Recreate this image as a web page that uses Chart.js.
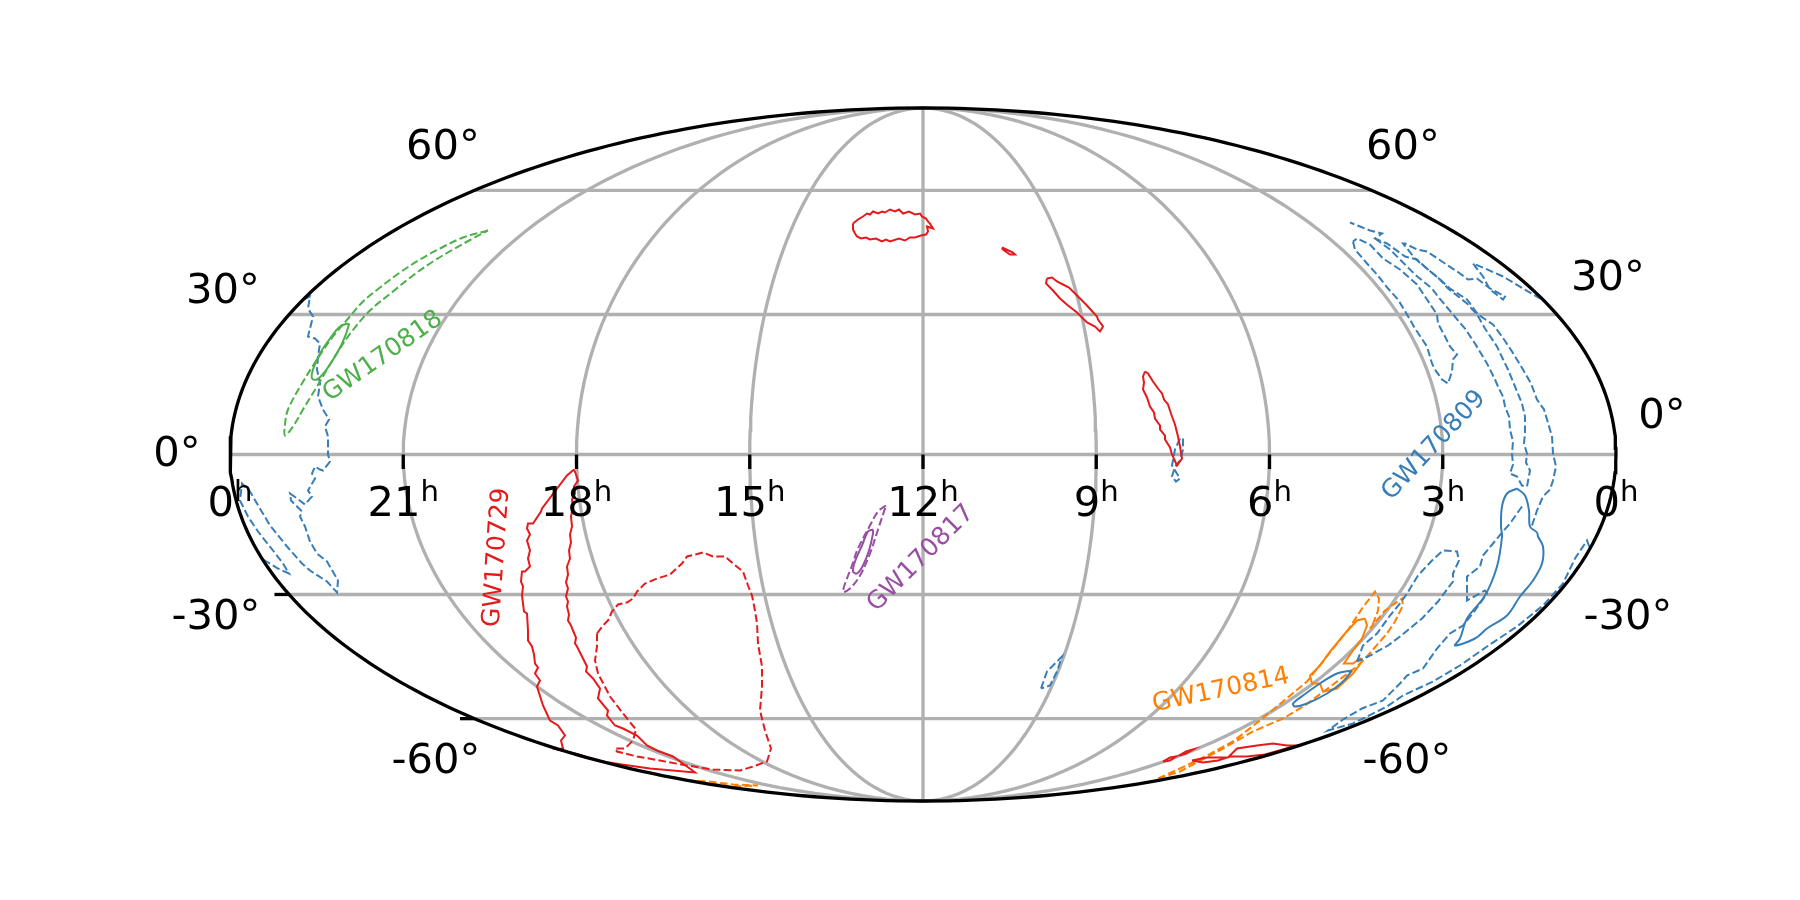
<!DOCTYPE html>
<html>
<head>
<meta charset="utf-8">
<title>GW sky map</title>
<script src="https://cdn.jsdelivr.net/npm/chart.js@4"></script>
<style>
  body { margin: 0; background: #fff; }
  canvas { display: block; }
</style>
</head>
<body>
<canvas id="myChart" width="1800" height="900"></canvas>
<script>
// contours are read off the picture, as [x, y] in the projected map plane
// (centre of the map is 0,0, half width 693, half height 346.5)
const gw170818Solid = [[-575,131],[-583,128],[-593,116],[-603,101],[-610,85],[-611,76],[-606,75],[-598,83],[-588,98],[-580,113],[-574,130],[-575,131]];
const gw170818Dashed = [[-435,224],[-460,217],[-483,206],[-503,195],[-523,182],[-543,167],[-560,153],[-574,137],[-590,118],[-606,95],[-621,71],[-635,45],[-638,30],[-638,19],[-630,28],[-620,45],[-606,68],[-596,85],[-585,103],[-572,122],[-553,144],[-530,163],[-510,179],[-490,193],[-470,205],[-452,215],[-435,224]];

const gw170817Solid = [[-50,-75],[-55,-77],[-61,-91],[-68,-107],[-70,-117],[-66,-119],[-60,-111],[-54,-96],[-50,-79],[-50,-75]];
const gw170817Dashed = [[-37,-51],[-45,-57],[-53,-71],[-65,-94],[-71,-111],[-80,-137],[-73,-134],[-63,-121],[-53,-99],[-44,-72],[-37,-51]];

const gw170729NorthA = [[-70,231],[-65,235],[-60,238],[-56,241],[-53,240],[-50,243],[-45,241],[-41,243],[-38,242],[-33,245],[-28,243],[-24,245],[-20,241],[-14,243],[-8,240],[-3,241],[-1,238],[3,236],[5,233],[7,231],[10,226],[4,228],[5,223],[3,220],[-2,219],[-8,217],[-13,217],[-18,214],[-24,216],[-33,213],[-37,215],[-41,213],[-47,216],[-53,215],[-57,217],[-62,216],[-66,218],[-68,221],[-70,225],[-70,231]];
const gw170729NorthB = [[79,207],[90,202],[92,200],[87,200],[80,205],[79,207]];
const gw170729NorthC = [[124,176],[129,177],[134,173],[140,170],[146,167],[152,161],[163,150],[174,138],[175,135],[180,128],[177,123],[172,128],[164,132],[154,142],[145,149],[137,156],[130,164],[123,171],[124,176]];
const gw170729Equator = [[222,83],[220,78],[221,72],[220,65],[224,57],[227,48],[231,42],[232,36],[237,29],[237,25],[242,19],[242,15],[247,7],[249,0],[254,-11],[259,-4],[257,8],[255,18],[252,30],[249,38],[245,50],[241,55],[239,61],[235,66],[230,73],[225,81],[222,83]];
const gw170729Main = [[-349,-15],[-356,-21],[-381,-54],[-382,-57],[-390,-69],[-395,-69],[-396,-74],[-393,-80],[-396,-86],[-393,-96],[-395,-104],[-393,-112],[-398,-117],[-401,-117],[-402,-127],[-400,-132],[-401,-141],[-399,-157],[-396,-159],[-395,-176],[-395,-186],[-391,-192],[-389,-200],[-388,-209],[-385,-213],[-388,-219],[-383,-226],[-386,-232],[-380,-251],[-373,-266],[-365,-271],[-358,-281],[-362,-286],[-360,-294],[-366,-295],[-344,-300],[-326,-306],[-301,-310],[-273,-314],[-228,-318],[-236,-312],[-250,-302],[-266,-296],[-276,-291],[-286,-281],[-300,-274],[-308,-271],[-316,-261],[-315,-256],[-325,-244],[-323,-234],[-330,-224],[-337,-217],[-336,-212],[-346,-192],[-348,-189],[-347,-183],[-350,-176],[-352,-171],[-355,-166],[-354,-160],[-356,-152],[-355,-147],[-357,-142],[-355,-134],[-357,-128],[-355,-120],[-356,-112],[-353,-104],[-354,-96],[-352,-88],[-353,-80],[-351,-72],[-352,-62],[-350,-52],[-351,-45],[-348,-39],[-349,-32],[-345,-26],[-347,-20],[-349,-15]];
const gw170729Dashed = [[-326,-179],[-320,-171],[-315,-166],[-311,-157],[-305,-150],[-296,-148],[-290,-144],[-286,-137],[-278,-129],[-266,-124],[-253,-120],[-241,-109],[-236,-102],[-228,-100],[-220,-98],[-210,-102],[-198,-102],[-190,-109],[-180,-117],[-175,-131],[-171,-141],[-168,-156],[-166,-169],[-165,-189],[-161,-212],[-161,-232],[-163,-256],[-158,-276],[-152,-294],[-156,-307],[-170,-312],[-183,-316],[-210,-315],[-236,-311],[-263,-306],[-286,-302],[-306,-297],[-308,-294],[-298,-294],[-290,-286],[-287,-275],[-300,-259],[-313,-242],[-325,-219],[-328,-206],[-326,-192],[-326,-179]];
const gw170729SouthA = [[240,-307],[247,-303],[253,-302],[247,-306],[240,-307]];
const gw170729SouthB = [[256,-301],[263,-297],[270,-295],[263,-299],[256,-301]];
const gw170729SouthC = [[269,-306],[284,-303],[305,-303],[314,-294],[334,-291],[350,-289],[364,-291],[374,-291],[342,-300],[324,-302],[307,-302],[295,-306],[280,-308],[269,-306]];

const gw170814Solid = [[442,-164],[434,-166],[422,-179],[407,-197],[397,-211],[387,-221],[389,-229],[397,-229],[400,-237],[414,-234],[430,-219],[439,-207],[437,-204],[430,-209],[421,-209],[423,-206],[430,-196],[439,-184],[444,-171],[442,-164]];
const gw170814Dashed = [[235,-324],[257,-314],[284,-301],[310,-287],[337,-266],[360,-247],[384,-227],[426,-174],[439,-154],[452,-137],[456,-144],[455,-156],[449,-172],[447,-174],[462,-156],[479,-144],[480,-151],[472,-167],[464,-179],[444,-202],[434,-212],[382,-251],[360,-264],[330,-277],[300,-294],[257,-317],[235,-324]];
const gw170814Wrap = [[-233,-326],[-215,-329],[-190,-332],[-165,-331],[-190,-330],[-215,-327],[-233,-326]];

const gw170809SolidSmall = [[429,-216],[414,-219],[397,-229],[380,-241],[370,-249],[372,-252],[384,-249],[404,-239],[420,-227],[429,-216]];
const gw170809SolidBig = [[594,-34],[602,-41],[606,-56],[607,-72],[614,-78],[615,-82],[620,-92],[619,-109],[610,-126],[597,-142],[584,-161],[564,-174],[552,-184],[532,-191],[537,-184],[544,-164],[562,-141],[574,-112],[579,-82],[578,-72],[579,-52],[584,-39],[594,-34]];
const gw170809DashedA = [[430,213],[432,205],[444,191],[454,180],[465,166],[475,155],[484,140],[492,126],[504,108],[509,91],[512,85],[519,75],[525,71],[529,83],[530,95],[534,100],[527,108],[522,118],[515,131],[514,140],[504,155],[494,170],[477,185],[460,196],[447,210],[434,216],[430,213]];
const gw170809DashedB = [[452,216],[467,205],[482,190],[492,180],[509,166],[515,158],[530,140],[542,126],[552,111],[564,91],[572,75],[575,68],[580,58],[582,48],[586,38],[587,25],[590,13],[589,1],[590,-10],[587,-19],[594,-22],[599,-31],[604,-32],[607,-16],[603,-8],[604,1],[601,11],[602,21],[602,38],[599,51],[592,68],[585,85],[582,91],[574,108],[562,126],[554,140],[544,151],[525,166],[517,175],[505,185],[494,195],[482,198],[464,211],[452,216],[459,221],[447,224],[437,228],[427,232]];
const gw170809DashedC = [[609,-71],[614,-56],[620,-42],[627,-35],[630,-26],[633,-12],[630,1],[629,18],[624,35],[621,45],[614,55],[608,71],[600,85],[589,103],[579,118],[570,130],[555,140],[544,155],[527,166],[517,175],[505,185],[492,196],[480,211],[482,211],[494,205],[504,203],[522,191],[537,181],[545,175],[554,176],[567,166],[582,158],[580,155],[567,165],[560,178],[550,191],[562,186],[580,178],[600,166],[619,155]];
const gw170809DashedD = [[434,-207],[440,-191],[454,-179],[467,-161],[477,-149],[484,-139],[495,-121],[509,-106],[520,-96],[534,-97],[536,-106],[530,-119],[530,-127],[515,-147],[499,-164],[477,-182],[465,-191],[447,-201],[434,-207]];
const gw170809DashedE = [[599,-52],[587,-69],[580,-77],[570,-89],[560,-101],[557,-112],[544,-122],[544,-146],[562,-136],[564,-139],[552,-156],[540,-171],[527,-179],[514,-194],[500,-214],[484,-221],[477,-229],[460,-246],[439,-254],[420,-265],[405,-276],[430,-269],[464,-252],[480,-241],[510,-227],[537,-211],[564,-192],[594,-172],[620,-151],[640,-129],[652,-104],[664,-86],[667,-94]];
const gw170809DashedF = [[260,16],[260,5],[257,-6],[252,-12],[249,-22],[253,-27],[257,-24],[249,-11],[252,5],[257,16]];
const gw170809DashedG = [[118,-234],[124,-217],[139,-202],[134,-217],[127,-231],[118,-234]];
const gw170809DashedWrap = [[-620,155],[-613,158],[-615,146],[-610,138],[-615,118],[-608,116],[-603,111],[-605,98],[-606,85],[-603,71],[-605,58],[-600,45],[-594,35],[-598,28],[-595,18],[-595,0],[-593,-7],[-600,-16],[-603,-15],[-608,-12],[-611,-19],[-608,-24],[-615,-36],[-611,-42],[-618,-50],[-626,-44],[-633,-39],[-632,-46],[-621,-57],[-623,-62],[-618,-72],[-613,-87],[-606,-99],[-596,-107],[-585,-126],[-586,-138],[-596,-127],[-613,-116],[-621,-109],[-636,-92],[-653,-71],[-666,-49],[-673,-37],[-681,-29],[-683,-46],[-675,-62],[-665,-77],[-650,-96],[-640,-109],[-634,-119],[-645,-114],[-660,-105]];

const hourTicks = [21, 18, 15, 12, 9, 6, 3];
const hourLabels = [24, 21, 18, 15, 12, 9, 6, 3, 0];
const decGrid = [-60, -30, 0, 30, 60];
const decTicks = [-30, -60];
const decLabels = ["60°", "30°", "0°", "-30°", "-60°", "60°", "30°", "0°", "-30°", "-60°"];
const decLabelX = [-480, -700, -746, -707, -487, 480, 685, 739, 705, 484];
const decLabelY = [296, 152, -11, -174, -318, 296, 165, 27, -174, -318];

const eventNames = ["GW170818", "GW170729", "GW170817", "GW170809", "GW170814"];
const eventColors = ["#4daf4a", "#e41a1c", "#984ea3", "#377eb8", "#ff7f00"];
const eventLabelX = [-540, -426, -2, 511, 298];
const eventLabelY = [98, -103, -104, 9, -236];
const eventLabelAngle = [-35, -86, -45, -47, -12];

const MAP_W = 693;
const MAP_H = 346.5;
const GREEN = eventColors[0], RED = eventColors[1], PURPLE = eventColors[2], BLUE = eventColors[3], ORANGE = eventColors[4];

function toPoints(list) {
  return list.map((p) => ({ x: p[0], y: p[1] }));
}

function contour(list, color, dashed, smooth) {
  return {
    data: toPoints(list),
    borderColor: color,
    borderWidth: 2,
    borderDash: dashed ? [7.7, 3.3] : [],
    tension: smooth ? 0.35 : 0,
    order: 2,
  };
}

// auxiliary angle of the Mollweide projection
function auxAngle(dec) {
  const target = Math.PI * Math.sin((dec * Math.PI) / 180);
  let t = (dec * Math.PI) / 180;
  for (let i = 0; i < 30; i++) {
    const bottom = 2 + 2 * Math.cos(2 * t);
    if (Math.abs(bottom) < 1e-9) break;
    t -= (2 * t + Math.sin(2 * t) - target) / bottom;
  }
  return t;
}

function meridian(hour) {
  const pts = [];
  for (let i = 0; i <= 90; i++) {
    const t = -Math.PI / 2 + (i * Math.PI) / 90;
    pts.push([(MAP_W * (12 - hour) * Math.cos(t)) / 12, MAP_H * Math.sin(t)]);
  }
  return pts;
}

function parallel(dec) {
  const t = auxAngle(dec);
  const half = MAP_W * Math.cos(t);
  return [[-half, MAP_H * Math.sin(t)], [half, MAP_H * Math.sin(t)]];
}

function outline() {
  const pts = [];
  for (let i = 0; i <= 360; i++) {
    const t = (i * Math.PI) / 180;
    pts.push([MAP_W * Math.cos(t), MAP_H * Math.sin(t)]);
  }
  return pts;
}

function plain(list, color, width, order) {
  return { data: toPoints(list), borderColor: color, borderWidth: width, order: order };
}

const datasets = [];
hourTicks.forEach((h) => datasets.push(plain(meridian(h), "#b0b0b0", 3.3, 3)));
decGrid.forEach((d) => datasets.push(plain(parallel(d), "#b0b0b0", 3.3, 3)));

datasets.push(contour(gw170818Solid, GREEN, false, true));
datasets.push(contour(gw170818Dashed, GREEN, true, true));
datasets.push(contour(gw170817Solid, PURPLE, false, true));
datasets.push(contour(gw170817Dashed, PURPLE, true, true));
[gw170729NorthA, gw170729NorthB, gw170729NorthC, gw170729Equator, gw170729Main, gw170729SouthA, gw170729SouthB, gw170729SouthC].forEach((c) =>
  datasets.push(contour(c, RED, false, false))
);
datasets.push(contour(gw170729Dashed, RED, true, false));
[gw170809DashedA, gw170809DashedB, gw170809DashedC, gw170809DashedD, gw170809DashedE, gw170809DashedF, gw170809DashedG, gw170809DashedWrap].forEach((c) =>
  datasets.push(contour(c, BLUE, true, false))
);
datasets.push(contour(gw170809SolidSmall, BLUE, false, true));
datasets.push(contour(gw170809SolidBig, BLUE, false, true));
datasets.push(contour(gw170814Solid, ORANGE, false, false));
datasets.push(contour(gw170814Dashed, ORANGE, true, false));
datasets.push(contour(gw170814Wrap, ORANGE, true, false));

// tick marks and the map outline go on top
hourTicks.forEach((h) => {
  const x = (MAP_W * (12 - h)) / 12;
  datasets.push(plain([[x, 0], [x, -14.6]], "#000", 3.3, 1));
});
decTicks.forEach((d) => {
  const line = parallel(d);
  datasets.push(plain([line[0], [line[0][0] - 14.6, line[0][1]]], "#000", 3.3, 1));
});
datasets.push(plain(outline(), "#000", 3.3, 1));

const mapText = {
  id: "mapText",
  afterDraw(chart) {
    const ctx = chart.ctx;
    const sx = chart.scales.x;
    const sy = chart.scales.y;
    ctx.save();
    ctx.fillStyle = "#000";
    ctx.textBaseline = "alphabetic";

    // hour labels with the raised h
    hourLabels.forEach((h) => {
      const text = String(h % 24);
      ctx.font = '41.67px "DejaVu Sans"';
      const w1 = ctx.measureText(text).width;
      ctx.font = '29.17px "DejaVu Sans"';
      const w2 = ctx.measureText("h").width;
      const left = sx.getPixelForValue((MAP_W * (12 - h)) / 12) - (w1 + w2) / 2;
      const base = sy.getPixelForValue(-61);
      ctx.textAlign = "left";
      ctx.font = '41.67px "DejaVu Sans"';
      ctx.fillText(text, left, base);
      ctx.font = '29.17px "DejaVu Sans"';
      ctx.fillText("h", left + w1, base - 14.5);
    });

    ctx.font = '41.67px "DejaVu Sans"';
    ctx.textAlign = "center";
    decLabels.forEach((text, i) => {
      ctx.fillText(text, sx.getPixelForValue(decLabelX[i]), sy.getPixelForValue(decLabelY[i]));
    });

    ctx.font = '25px "DejaVu Sans"';
    ctx.textBaseline = "middle";
    eventNames.forEach((name, i) => {
      ctx.save();
      ctx.translate(sx.getPixelForValue(eventLabelX[i]), sy.getPixelForValue(eventLabelY[i]));
      ctx.rotate((eventLabelAngle[i] * Math.PI) / 180);
      ctx.fillStyle = eventColors[i];
      ctx.fillText(name, 0, 0);
      ctx.restore();
    });
    ctx.restore();
  },
};

new Chart(document.getElementById("myChart").getContext("2d"), {
  type: "scatter",
  data: { datasets: datasets },
  options: {
    responsive: false,
    animation: false,
    layout: { padding: { left: 230, right: 184, top: 108, bottom: 99 } },
    datasets: { scatter: { showLine: true, pointRadius: 0, clip: false, fill: false } },
    plugins: { legend: { display: false }, tooltip: { enabled: false } },
    scales: {
      x: { type: "linear", min: -MAP_W, max: MAP_W, display: false },
      y: { type: "linear", min: -MAP_H, max: MAP_H, display: false },
    },
  },
  plugins: [mapText],
});
</script>
</body>
</html>
